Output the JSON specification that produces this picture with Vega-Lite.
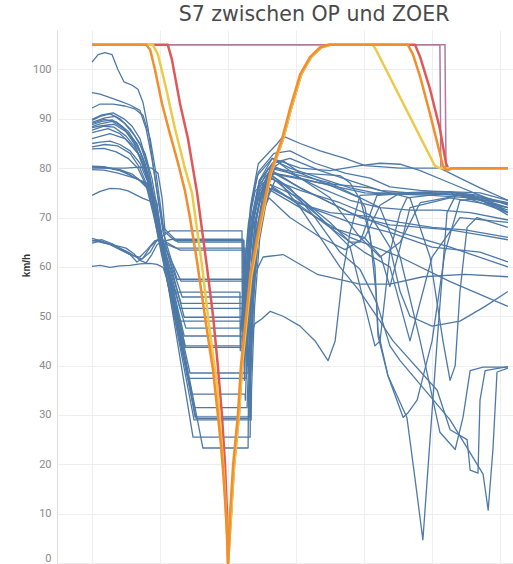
{
  "$schema": "https://vega.github.io/schema/vega-lite/v6.json",
  "width": 456,
  "height": 533,
  "autosize": {"type": "none"},
  "padding": {"left": 57, "top": 30, "right": 0, "bottom": 1},
  "background": "white",
  "title": {
    "text": "S7 zwischen OP und ZOER",
    "font": "DejaVu Sans",
    "fontSize": 20.5,
    "fontWeight": "normal",
    "color": "#4a4a4a",
    "anchor": "middle",
    "frame": "group",
    "dx": 29,
    "offset": 5
  },
  "config": {"view": {"stroke": null}},
  "datasets": {
    "fahrten": [
      {"fahrt":"01","m":0,"kmh":101.5},{"fahrt":"01","m":18,"kmh":103},{"fahrt":"01","m":38,"kmh":103.4},{"fahrt":"01","m":59,"kmh":103},{"fahrt":"01","m":76,"kmh":100},{"fahrt":"01","m":94,"kmh":97.5},{"fahrt":"01","m":118,"kmh":96.8},{"fahrt":"01","m":135,"kmh":96},{"fahrt":"01","m":150,"kmh":93.3},{"fahrt":"01","m":165,"kmh":88},{"fahrt":"01","m":179,"kmh":81},{"fahrt":"01","m":194,"kmh":74},{"fahrt":"01","m":209,"kmh":67},{"fahrt":"01","m":250,"kmh":57.5},{"fahrt":"01","m":444,"kmh":57.5},{"fahrt":"01","m":445,"kmh":44},{"fahrt":"01","m":454,"kmh":60.4},{"fahrt":"01","m":469,"kmh":73.5},{"fahrt":"01","m":489,"kmh":80.9},{"fahrt":"01","m":545,"kmh":85},{"fahrt":"01","m":562,"kmh":86.5},{"fahrt":"01","m":612,"kmh":85},{"fahrt":"01","m":671,"kmh":83.5},{"fahrt":"01","m":744,"kmh":82},{"fahrt":"01","m":803,"kmh":80.5},{"fahrt":"01","m":906,"kmh":80},{"fahrt":"01","m":1023,"kmh":80},{"fahrt":"01","m":1082,"kmh":78},{"fahrt":"01","m":1141,"kmh":76},{"fahrt":"01","m":1223,"kmh":73.5},
      {"fahrt":"02","m":0,"kmh":95.3},{"fahrt":"02","m":24,"kmh":95},{"fahrt":"02","m":53,"kmh":94.3},{"fahrt":"02","m":82,"kmh":93.6},{"fahrt":"02","m":112,"kmh":92.8},{"fahrt":"02","m":141,"kmh":91.7},{"fahrt":"02","m":159,"kmh":88},{"fahrt":"02","m":176,"kmh":82},{"fahrt":"02","m":194,"kmh":74},{"fahrt":"02","m":209,"kmh":68},{"fahrt":"02","m":253,"kmh":65},{"fahrt":"02","m":444,"kmh":65},{"fahrt":"02","m":445,"kmh":45},{"fahrt":"02","m":454,"kmh":60.2},{"fahrt":"02","m":469,"kmh":72.4},{"fahrt":"02","m":489,"kmh":79.2},{"fahrt":"02","m":535,"kmh":83},{"fahrt":"02","m":582,"kmh":83.5},{"fahrt":"02","m":656,"kmh":81},{"fahrt":"02","m":744,"kmh":79},{"fahrt":"02","m":818,"kmh":78},{"fahrt":"02","m":876,"kmh":76.2},{"fahrt":"02","m":965,"kmh":75.5},{"fahrt":"02","m":1082,"kmh":75},{"fahrt":"02","m":1223,"kmh":73},
      {"fahrt":"03","m":0,"kmh":92.2},{"fahrt":"03","m":24,"kmh":93},{"fahrt":"03","m":62,"kmh":93},{"fahrt":"03","m":97,"kmh":92.6},{"fahrt":"03","m":126,"kmh":92},{"fahrt":"03","m":150,"kmh":90.7},{"fahrt":"03","m":171,"kmh":86},{"fahrt":"03","m":188,"kmh":79},{"fahrt":"03","m":206,"kmh":70},{"fahrt":"03","m":218,"kmh":64},{"fahrt":"03","m":271,"kmh":49.8},{"fahrt":"03","m":447,"kmh":49.8},{"fahrt":"03","m":448,"kmh":41},{"fahrt":"03","m":457,"kmh":57.2},{"fahrt":"03","m":472,"kmh":70.2},{"fahrt":"03","m":492,"kmh":77.5},{"fahrt":"03","m":538,"kmh":81.5},{"fahrt":"03","m":582,"kmh":80},{"fahrt":"03","m":671,"kmh":78},{"fahrt":"03","m":759,"kmh":76},{"fahrt":"03","m":832,"kmh":75},{"fahrt":"03","m":965,"kmh":75},{"fahrt":"03","m":1082,"kmh":74.5},{"fahrt":"03","m":1156,"kmh":73.5},{"fahrt":"03","m":1223,"kmh":72},
      {"fahrt":"04","m":0,"kmh":89.7},{"fahrt":"04","m":24,"kmh":90.5},{"fahrt":"04","m":53,"kmh":91},{"fahrt":"04","m":82,"kmh":90},{"fahrt":"04","m":112,"kmh":88},{"fahrt":"04","m":141,"kmh":85},{"fahrt":"04","m":165,"kmh":80},{"fahrt":"04","m":185,"kmh":73},{"fahrt":"04","m":203,"kmh":66},{"fahrt":"04","m":229,"kmh":67.3},{"fahrt":"04","m":441,"kmh":67.3},{"fahrt":"04","m":442,"kmh":47},{"fahrt":"04","m":451,"kmh":61},{"fahrt":"04","m":466,"kmh":72.2},{"fahrt":"04","m":486,"kmh":78.5},{"fahrt":"04","m":530,"kmh":82},{"fahrt":"04","m":612,"kmh":80},{"fahrt":"04","m":700,"kmh":79.5},{"fahrt":"04","m":788,"kmh":80.5},{"fahrt":"04","m":847,"kmh":81},{"fahrt":"04","m":906,"kmh":80.8},{"fahrt":"04","m":965,"kmh":79.5},{"fahrt":"04","m":1053,"kmh":77},{"fahrt":"04","m":1141,"kmh":74.5},{"fahrt":"04","m":1223,"kmh":71},
      {"fahrt":"05","m":0,"kmh":89.3},{"fahrt":"05","m":38,"kmh":90.2},{"fahrt":"05","m":68,"kmh":90.5},{"fahrt":"05","m":97,"kmh":89},{"fahrt":"05","m":126,"kmh":86.5},{"fahrt":"05","m":156,"kmh":83},{"fahrt":"05","m":176,"kmh":78},{"fahrt":"05","m":194,"kmh":71},{"fahrt":"05","m":209,"kmh":65},{"fahrt":"05","m":303,"kmh":29.6},{"fahrt":"05","m":465,"kmh":29.6},{"fahrt":"05","m":466,"kmh":40},{"fahrt":"05","m":475,"kmh":56},{"fahrt":"05","m":490,"kmh":68.8},{"fahrt":"05","m":510,"kmh":76},{"fahrt":"05","m":538,"kmh":80},{"fahrt":"05","m":612,"kmh":79},{"fahrt":"05","m":729,"kmh":78.5},{"fahrt":"05","m":759,"kmh":77},{"fahrt":"05","m":803,"kmh":72},{"fahrt":"05","m":832,"kmh":60},{"fahrt":"05","m":841,"kmh":47},{"fahrt":"05","m":870,"kmh":38},{"fahrt":"05","m":926,"kmh":29.5},{"fahrt":"05","m":950,"kmh":17},{"fahrt":"05","m":973,"kmh":4.7},{"fahrt":"05","m":994,"kmh":25},{"fahrt":"05","m":1015,"kmh":45},{"fahrt":"05","m":1044,"kmh":71},{"fahrt":"05","m":1073,"kmh":75},{"fahrt":"05","m":1141,"kmh":74.5},{"fahrt":"05","m":1223,"kmh":72.5},
      {"fahrt":"06","m":0,"kmh":88.8},{"fahrt":"06","m":29,"kmh":89.5},{"fahrt":"06","m":59,"kmh":89.8},{"fahrt":"06","m":88,"kmh":88.5},{"fahrt":"06","m":118,"kmh":86},{"fahrt":"06","m":147,"kmh":82.5},{"fahrt":"06","m":171,"kmh":77},{"fahrt":"06","m":191,"kmh":70},{"fahrt":"06","m":206,"kmh":64},{"fahrt":"06","m":288,"kmh":38.5},{"fahrt":"06","m":459,"kmh":38.5},{"fahrt":"06","m":460,"kmh":42},{"fahrt":"06","m":469,"kmh":57.4},{"fahrt":"06","m":484,"kmh":69.7},{"fahrt":"06","m":504,"kmh":76.7},{"fahrt":"06","m":530,"kmh":80.5},{"fahrt":"06","m":582,"kmh":79},{"fahrt":"06","m":671,"kmh":76},{"fahrt":"06","m":759,"kmh":73.5},{"fahrt":"06","m":847,"kmh":72},{"fahrt":"06","m":935,"kmh":71.5},{"fahrt":"06","m":1023,"kmh":71.5},{"fahrt":"06","m":1112,"kmh":71},{"fahrt":"06","m":1223,"kmh":69.5},
      {"fahrt":"07","m":0,"kmh":88.4},{"fahrt":"07","m":24,"kmh":89},{"fahrt":"07","m":59,"kmh":89.5},{"fahrt":"07","m":94,"kmh":88},{"fahrt":"07","m":124,"kmh":85},{"fahrt":"07","m":147,"kmh":81},{"fahrt":"07","m":171,"kmh":76},{"fahrt":"07","m":188,"kmh":70},{"fahrt":"07","m":203,"kmh":65},{"fahrt":"07","m":247,"kmh":63.8},{"fahrt":"07","m":450,"kmh":63.8},{"fahrt":"07","m":451,"kmh":46},{"fahrt":"07","m":460,"kmh":60},{"fahrt":"07","m":475,"kmh":71.2},{"fahrt":"07","m":495,"kmh":77.5},{"fahrt":"07","m":530,"kmh":81},{"fahrt":"07","m":582,"kmh":82},{"fahrt":"07","m":671,"kmh":79.5},{"fahrt":"07","m":759,"kmh":77.5},{"fahrt":"07","m":847,"kmh":75.5},{"fahrt":"07","m":935,"kmh":75},{"fahrt":"07","m":1053,"kmh":75.2},{"fahrt":"07","m":1141,"kmh":74},{"fahrt":"07","m":1223,"kmh":72.8},
      {"fahrt":"08","m":0,"kmh":87.7},{"fahrt":"08","m":35,"kmh":88.5},{"fahrt":"08","m":65,"kmh":88.3},{"fahrt":"08","m":100,"kmh":86.5},{"fahrt":"08","m":129,"kmh":84},{"fahrt":"08","m":153,"kmh":80.5},{"fahrt":"08","m":174,"kmh":75},{"fahrt":"08","m":191,"kmh":69},{"fahrt":"08","m":206,"kmh":64},{"fahrt":"08","m":244,"kmh":54.9},{"fahrt":"08","m":435,"kmh":54.9},{"fahrt":"08","m":436,"kmh":43},{"fahrt":"08","m":445,"kmh":57.4},{"fahrt":"08","m":460,"kmh":68.9},{"fahrt":"08","m":480,"kmh":75.4},{"fahrt":"08","m":535,"kmh":79},{"fahrt":"08","m":612,"kmh":78},{"fahrt":"08","m":700,"kmh":76.5},{"fahrt":"08","m":788,"kmh":74},{"fahrt":"08","m":818,"kmh":66},{"fahrt":"08","m":835,"kmh":55},{"fahrt":"08","m":841,"kmh":46},{"fahrt":"08","m":870,"kmh":38},{"fahrt":"08","m":915,"kmh":29.5},{"fahrt":"08","m":930,"kmh":30.5},{"fahrt":"08","m":956,"kmh":33},{"fahrt":"08","m":1000,"kmh":45},{"fahrt":"08","m":1038,"kmh":63},{"fahrt":"08","m":1082,"kmh":73.5},{"fahrt":"08","m":1141,"kmh":73.8},{"fahrt":"08","m":1223,"kmh":70.5},
      {"fahrt":"09","m":0,"kmh":87.2},{"fahrt":"09","m":47,"kmh":88},{"fahrt":"09","m":82,"kmh":87},{"fahrt":"09","m":112,"kmh":85},{"fahrt":"09","m":141,"kmh":82.5},{"fahrt":"09","m":165,"kmh":78},{"fahrt":"09","m":185,"kmh":72},{"fahrt":"09","m":203,"kmh":66},{"fahrt":"09","m":274,"kmh":43.7},{"fahrt":"09","m":465,"kmh":43.7},{"fahrt":"09","m":466,"kmh":38},{"fahrt":"09","m":475,"kmh":54},{"fahrt":"09","m":490,"kmh":66.8},{"fahrt":"09","m":510,"kmh":74},{"fahrt":"09","m":524,"kmh":78},{"fahrt":"09","m":553,"kmh":77},{"fahrt":"09","m":612,"kmh":72},{"fahrt":"09","m":671,"kmh":66},{"fahrt":"09","m":729,"kmh":60},{"fahrt":"09","m":788,"kmh":55},{"fahrt":"09","m":847,"kmh":49},{"fahrt":"09","m":885,"kmh":45},{"fahrt":"09","m":1015,"kmh":35},{"fahrt":"09","m":1053,"kmh":27},{"fahrt":"09","m":1103,"kmh":25},{"fahrt":"09","m":1112,"kmh":18.8},{"fahrt":"09","m":1135,"kmh":18.2},{"fahrt":"09","m":1141,"kmh":33},{"fahrt":"09","m":1156,"kmh":39},{"fahrt":"09","m":1223,"kmh":39.8},
      {"fahrt":"10","m":0,"kmh":85},{"fahrt":"10","m":24,"kmh":85.3},{"fahrt":"10","m":53,"kmh":85.5},{"fahrt":"10","m":82,"kmh":84.8},{"fahrt":"10","m":112,"kmh":83.5},{"fahrt":"10","m":141,"kmh":81},{"fahrt":"10","m":165,"kmh":77},{"fahrt":"10","m":185,"kmh":71},{"fahrt":"10","m":203,"kmh":65},{"fahrt":"10","m":297,"kmh":25.5},{"fahrt":"10","m":465,"kmh":25.5},{"fahrt":"10","m":466,"kmh":36},{"fahrt":"10","m":474,"kmh":52},{"fahrt":"10","m":488,"kmh":66},{"fahrt":"10","m":505,"kmh":74},{"fahrt":"10","m":518,"kmh":79},{"fahrt":"10","m":582,"kmh":76},{"fahrt":"10","m":656,"kmh":70},{"fahrt":"10","m":729,"kmh":63},{"fahrt":"10","m":788,"kmh":59.5},{"fahrt":"10","m":838,"kmh":52.6},{"fahrt":"10","m":876,"kmh":44},{"fahrt":"10","m":906,"kmh":41},{"fahrt":"10","m":1053,"kmh":29},{"fahrt":"10","m":1150,"kmh":18},{"fahrt":"10","m":1165,"kmh":10.7},{"fahrt":"10","m":1179,"kmh":23},{"fahrt":"10","m":1191,"kmh":38.7},{"fahrt":"10","m":1223,"kmh":39.5},
      {"fahrt":"11","m":0,"kmh":84.3},{"fahrt":"11","m":38,"kmh":84.8},{"fahrt":"11","m":76,"kmh":84.5},{"fahrt":"11","m":112,"kmh":83},{"fahrt":"11","m":141,"kmh":80},{"fahrt":"11","m":165,"kmh":76},{"fahrt":"11","m":185,"kmh":70},{"fahrt":"11","m":200,"kmh":65},{"fahrt":"11","m":235,"kmh":65.6},{"fahrt":"11","m":444,"kmh":65.6},{"fahrt":"11","m":445,"kmh":44},{"fahrt":"11","m":454,"kmh":58.4},{"fahrt":"11","m":469,"kmh":70},{"fahrt":"11","m":489,"kmh":76.4},{"fahrt":"11","m":530,"kmh":80},{"fahrt":"11","m":562,"kmh":81.5},{"fahrt":"11","m":612,"kmh":79},{"fahrt":"11","m":700,"kmh":76.5},{"fahrt":"11","m":803,"kmh":75},{"fahrt":"11","m":906,"kmh":74.7},{"fahrt":"11","m":1023,"kmh":74.8},{"fahrt":"11","m":1112,"kmh":74.3},{"fahrt":"11","m":1223,"kmh":71.5},
      {"fahrt":"12","m":0,"kmh":83.9},{"fahrt":"12","m":35,"kmh":84},{"fahrt":"12","m":71,"kmh":83.3},{"fahrt":"12","m":106,"kmh":82},{"fahrt":"12","m":135,"kmh":80},{"fahrt":"12","m":159,"kmh":76.5},{"fahrt":"12","m":179,"kmh":71},{"fahrt":"12","m":197,"kmh":65.5},{"fahrt":"12","m":294,"kmh":34.2},{"fahrt":"12","m":450,"kmh":34.2},{"fahrt":"12","m":451,"kmh":33},{"fahrt":"12","m":460,"kmh":51.4},{"fahrt":"12","m":475,"kmh":66},{"fahrt":"12","m":495,"kmh":74.4},{"fahrt":"12","m":535,"kmh":79},{"fahrt":"12","m":612,"kmh":76},{"fahrt":"12","m":700,"kmh":73},{"fahrt":"12","m":788,"kmh":70},{"fahrt":"12","m":876,"kmh":68.5},{"fahrt":"12","m":965,"kmh":68},{"fahrt":"12","m":1053,"kmh":67.5},{"fahrt":"12","m":1141,"kmh":66.5},{"fahrt":"12","m":1223,"kmh":65.5},
      {"fahrt":"13","m":0,"kmh":80.4},{"fahrt":"13","m":35,"kmh":80.3},{"fahrt":"13","m":68,"kmh":79.8},{"fahrt":"13","m":97,"kmh":79.2},{"fahrt":"13","m":126,"kmh":78},{"fahrt":"13","m":162,"kmh":77},{"fahrt":"13","m":176,"kmh":75},{"fahrt":"13","m":191,"kmh":73},{"fahrt":"13","m":200,"kmh":68},{"fahrt":"13","m":212,"kmh":64},{"fahrt":"13","m":259,"kmh":51.6},{"fahrt":"13","m":456,"kmh":51.6},{"fahrt":"13","m":457,"kmh":40},{"fahrt":"13","m":466,"kmh":46},{"fahrt":"13","m":479,"kmh":48.5},{"fahrt":"13","m":500,"kmh":49.5},{"fahrt":"13","m":524,"kmh":51},{"fahrt":"13","m":562,"kmh":50},{"fahrt":"13","m":612,"kmh":48},{"fahrt":"13","m":656,"kmh":45},{"fahrt":"13","m":694,"kmh":41},{"fahrt":"13","m":715,"kmh":45},{"fahrt":"13","m":738,"kmh":59},{"fahrt":"13","m":759,"kmh":67},{"fahrt":"13","m":788,"kmh":74.5},{"fahrt":"13","m":876,"kmh":74.8},{"fahrt":"13","m":1000,"kmh":74.5},{"fahrt":"13","m":1112,"kmh":74},{"fahrt":"13","m":1223,"kmh":72.8},
      {"fahrt":"14","m":0,"kmh":80.2},{"fahrt":"14","m":47,"kmh":80},{"fahrt":"14","m":82,"kmh":79.5},{"fahrt":"14","m":112,"kmh":78.6},{"fahrt":"14","m":141,"kmh":77.5},{"fahrt":"14","m":165,"kmh":76.5},{"fahrt":"14","m":182,"kmh":73.5},{"fahrt":"14","m":197,"kmh":68},{"fahrt":"14","m":209,"kmh":63},{"fahrt":"14","m":276,"kmh":47.6},{"fahrt":"14","m":444,"kmh":47.6},{"fahrt":"14","m":445,"kmh":42},{"fahrt":"14","m":454,"kmh":50},{"fahrt":"14","m":469,"kmh":56.4},{"fahrt":"14","m":489,"kmh":60},{"fahrt":"14","m":503,"kmh":62},{"fahrt":"14","m":562,"kmh":62.5},{"fahrt":"14","m":662,"kmh":58.5},{"fahrt":"14","m":788,"kmh":56.5},{"fahrt":"14","m":876,"kmh":56.5},{"fahrt":"14","m":973,"kmh":58},{"fahrt":"14","m":1097,"kmh":58.5},{"fahrt":"14","m":1223,"kmh":58},
      {"fahrt":"15","m":0,"kmh":80},{"fahrt":"15","m":53,"kmh":80},{"fahrt":"15","m":97,"kmh":80},{"fahrt":"15","m":141,"kmh":80.2},{"fahrt":"15","m":176,"kmh":80},{"fahrt":"15","m":194,"kmh":79},{"fahrt":"15","m":206,"kmh":74},{"fahrt":"15","m":215,"kmh":67},{"fahrt":"15","m":244,"kmh":65.3},{"fahrt":"15","m":447,"kmh":65.3},{"fahrt":"15","m":448,"kmh":45},{"fahrt":"15","m":457,"kmh":58.2},{"fahrt":"15","m":472,"kmh":68.8},{"fahrt":"15","m":492,"kmh":74.7},{"fahrt":"15","m":530,"kmh":78},{"fahrt":"15","m":671,"kmh":70},{"fahrt":"15","m":759,"kmh":64},{"fahrt":"15","m":803,"kmh":52},{"fahrt":"15","m":832,"kmh":44},{"fahrt":"15","m":847,"kmh":45},{"fahrt":"15","m":876,"kmh":63},{"fahrt":"15","m":906,"kmh":71},{"fahrt":"15","m":926,"kmh":74},{"fahrt":"15","m":1053,"kmh":75},{"fahrt":"15","m":1223,"kmh":72},
      {"fahrt":"16","m":0,"kmh":79.7},{"fahrt":"16","m":35,"kmh":79.6},{"fahrt":"16","m":76,"kmh":79},{"fahrt":"16","m":106,"kmh":78.4},{"fahrt":"16","m":135,"kmh":77.8},{"fahrt":"16","m":162,"kmh":76},{"fahrt":"16","m":179,"kmh":72},{"fahrt":"16","m":194,"kmh":66},{"fahrt":"16","m":306,"kmh":29.3},{"fahrt":"16","m":462,"kmh":29.3},{"fahrt":"16","m":463,"kmh":37},{"fahrt":"16","m":472,"kmh":53},{"fahrt":"16","m":487,"kmh":65.8},{"fahrt":"16","m":505,"kmh":73},{"fahrt":"16","m":515,"kmh":77},{"fahrt":"16","m":612,"kmh":74},{"fahrt":"16","m":700,"kmh":69},{"fahrt":"16","m":759,"kmh":65},{"fahrt":"16","m":788,"kmh":65},{"fahrt":"16","m":838,"kmh":74.5},{"fahrt":"16","m":965,"kmh":75},{"fahrt":"16","m":1112,"kmh":74.5},{"fahrt":"16","m":1223,"kmh":71},
      {"fahrt":"17","m":0,"kmh":74.5},{"fahrt":"17","m":24,"kmh":75.3},{"fahrt":"17","m":53,"kmh":75.9},{"fahrt":"17","m":82,"kmh":75.8},{"fahrt":"17","m":106,"kmh":75.4},{"fahrt":"17","m":129,"kmh":74.6},{"fahrt":"17","m":150,"kmh":73.9},{"fahrt":"17","m":179,"kmh":73.1},{"fahrt":"17","m":194,"kmh":70},{"fahrt":"17","m":206,"kmh":66},{"fahrt":"17","m":265,"kmh":53.9},{"fahrt":"17","m":450,"kmh":53.9},{"fahrt":"17","m":451,"kmh":43},{"fahrt":"17","m":460,"kmh":57.8},{"fahrt":"17","m":475,"kmh":69.6},{"fahrt":"17","m":495,"kmh":76.3},{"fahrt":"17","m":518,"kmh":80},{"fahrt":"17","m":612,"kmh":76},{"fahrt":"17","m":759,"kmh":71},{"fahrt":"17","m":906,"kmh":67},{"fahrt":"17","m":1053,"kmh":64},{"fahrt":"17","m":1223,"kmh":60},
      {"fahrt":"18","m":0,"kmh":65.8},{"fahrt":"18","m":38,"kmh":65},{"fahrt":"18","m":76,"kmh":64},{"fahrt":"18","m":106,"kmh":63},{"fahrt":"18","m":129,"kmh":62},{"fahrt":"18","m":147,"kmh":61.6},{"fahrt":"18","m":171,"kmh":63},{"fahrt":"18","m":191,"kmh":65.4},{"fahrt":"18","m":206,"kmh":65.5},{"fahrt":"18","m":259,"kmh":63.4},{"fahrt":"18","m":447,"kmh":63.4},{"fahrt":"18","m":448,"kmh":45},{"fahrt":"18","m":457,"kmh":57.4},{"fahrt":"18","m":472,"kmh":67.3},{"fahrt":"18","m":492,"kmh":72.9},{"fahrt":"18","m":512,"kmh":76},{"fahrt":"18","m":612,"kmh":72},{"fahrt":"18","m":759,"kmh":66},{"fahrt":"18","m":906,"kmh":62},{"fahrt":"18","m":1053,"kmh":57},{"fahrt":"18","m":1223,"kmh":52},
      {"fahrt":"19","m":0,"kmh":65.4},{"fahrt":"19","m":35,"kmh":64.8},{"fahrt":"19","m":71,"kmh":64.3},{"fahrt":"19","m":100,"kmh":63.8},{"fahrt":"19","m":124,"kmh":62.6},{"fahrt":"19","m":141,"kmh":61.3},{"fahrt":"19","m":159,"kmh":60.8},{"fahrt":"19","m":176,"kmh":62.5},{"fahrt":"19","m":191,"kmh":64.5},{"fahrt":"19","m":206,"kmh":65.2},{"fahrt":"19","m":262,"kmh":57.1},{"fahrt":"19","m":453,"kmh":57.1},{"fahrt":"19","m":454,"kmh":41},{"fahrt":"19","m":463,"kmh":56.2},{"fahrt":"19","m":478,"kmh":68.4},{"fahrt":"19","m":498,"kmh":75.2},{"fahrt":"19","m":524,"kmh":79},{"fahrt":"19","m":671,"kmh":77},{"fahrt":"19","m":818,"kmh":76},{"fahrt":"19","m":935,"kmh":74},{"fahrt":"19","m":994,"kmh":62},{"fahrt":"19","m":1032,"kmh":45},{"fahrt":"19","m":1053,"kmh":37},{"fahrt":"19","m":1068,"kmh":40},{"fahrt":"19","m":1082,"kmh":55},{"fahrt":"19","m":1103,"kmh":68},{"fahrt":"19","m":1132,"kmh":70},{"fahrt":"19","m":1223,"kmh":68},
      {"fahrt":"20","m":0,"kmh":64.8},{"fahrt":"20","m":24,"kmh":65.2},{"fahrt":"20","m":53,"kmh":64.5},{"fahrt":"20","m":82,"kmh":63.5},{"fahrt":"20","m":112,"kmh":62.5},{"fahrt":"20","m":132,"kmh":61},{"fahrt":"20","m":150,"kmh":61.8},{"fahrt":"20","m":171,"kmh":64},{"fahrt":"20","m":194,"kmh":65.6},{"fahrt":"20","m":209,"kmh":65},{"fahrt":"20","m":326,"kmh":23.3},{"fahrt":"20","m":459,"kmh":23.3},{"fahrt":"20","m":460,"kmh":34},{"fahrt":"20","m":469,"kmh":52.4},{"fahrt":"20","m":484,"kmh":67.1},{"fahrt":"20","m":504,"kmh":75.4},{"fahrt":"20","m":524,"kmh":80},{"fahrt":"20","m":700,"kmh":77},{"fahrt":"20","m":847,"kmh":72},{"fahrt":"20","m":906,"kmh":62},{"fahrt":"20","m":965,"kmh":45},{"fahrt":"20","m":1023,"kmh":26.5},{"fahrt":"20","m":1068,"kmh":23},{"fahrt":"20","m":1091,"kmh":29.5},{"fahrt":"20","m":1112,"kmh":39},{"fahrt":"20","m":1150,"kmh":39.7},{"fahrt":"20","m":1223,"kmh":39.7},
      {"fahrt":"21","m":0,"kmh":60.1},{"fahrt":"21","m":24,"kmh":60.3},{"fahrt":"21","m":53,"kmh":59.9},{"fahrt":"21","m":82,"kmh":60.2},{"fahrt":"21","m":112,"kmh":60.3},{"fahrt":"21","m":141,"kmh":60.6},{"fahrt":"21","m":171,"kmh":60.7},{"fahrt":"21","m":191,"kmh":60.5},{"fahrt":"21","m":209,"kmh":59.9},{"fahrt":"21","m":218,"kmh":58},{"fahrt":"21","m":253,"kmh":49},{"fahrt":"21","m":453,"kmh":49},{"fahrt":"21","m":454,"kmh":39},{"fahrt":"21","m":463,"kmh":53.8},{"fahrt":"21","m":478,"kmh":65.6},{"fahrt":"21","m":498,"kmh":72.3},{"fahrt":"21","m":529,"kmh":76},{"fahrt":"21","m":600,"kmh":73},{"fahrt":"21","m":700,"kmh":71},{"fahrt":"21","m":818,"kmh":70.2},{"fahrt":"21","m":906,"kmh":69},{"fahrt":"21","m":1000,"kmh":68},{"fahrt":"21","m":1097,"kmh":67.5},{"fahrt":"21","m":1223,"kmh":66},
      {"fahrt":"22","m":0,"kmh":89.9},{"fahrt":"22","m":29,"kmh":90.8},{"fahrt":"22","m":62,"kmh":91.2},{"fahrt":"22","m":94,"kmh":90},{"fahrt":"22","m":118,"kmh":88.5},{"fahrt":"22","m":141,"kmh":86},{"fahrt":"22","m":162,"kmh":81},{"fahrt":"22","m":182,"kmh":74},{"fahrt":"22","m":200,"kmh":67},{"fahrt":"22","m":282,"kmh":37.4},{"fahrt":"22","m":453,"kmh":37.4},{"fahrt":"22","m":454,"kmh":38},{"fahrt":"22","m":463,"kmh":52.4},{"fahrt":"22","m":478,"kmh":64},{"fahrt":"22","m":498,"kmh":70.4},{"fahrt":"22","m":520,"kmh":74},{"fahrt":"22","m":582,"kmh":70},{"fahrt":"22","m":671,"kmh":66},{"fahrt":"22","m":744,"kmh":63.5},{"fahrt":"22","m":803,"kmh":66},{"fahrt":"22","m":847,"kmh":72.5},{"fahrt":"22","m":906,"kmh":75},{"fahrt":"22","m":1023,"kmh":75.3},{"fahrt":"22","m":1141,"kmh":75},{"fahrt":"22","m":1223,"kmh":73.5},
      {"fahrt":"23","m":0,"kmh":86},{"fahrt":"23","m":53,"kmh":87},{"fahrt":"23","m":97,"kmh":86},{"fahrt":"23","m":135,"kmh":83},{"fahrt":"23","m":159,"kmh":79},{"fahrt":"23","m":179,"kmh":73},{"fahrt":"23","m":197,"kmh":66},{"fahrt":"23","m":300,"kmh":29},{"fahrt":"23","m":468,"kmh":29},{"fahrt":"23","m":469,"kmh":35},{"fahrt":"23","m":478,"kmh":52},{"fahrt":"23","m":493,"kmh":65.6},{"fahrt":"23","m":513,"kmh":73.3},{"fahrt":"23","m":538,"kmh":77.5},{"fahrt":"23","m":612,"kmh":75.5},{"fahrt":"23","m":729,"kmh":73},{"fahrt":"23","m":818,"kmh":70.5},{"fahrt":"23","m":876,"kmh":64},{"fahrt":"23","m":906,"kmh":55},{"fahrt":"23","m":935,"kmh":50},{"fahrt":"23","m":1000,"kmh":48},{"fahrt":"23","m":1082,"kmh":49},{"fahrt":"23","m":1156,"kmh":52},{"fahrt":"23","m":1223,"kmh":55},
      {"fahrt":"24","m":0,"kmh":89.1},{"fahrt":"24","m":35,"kmh":89.9},{"fahrt":"24","m":71,"kmh":89.4},{"fahrt":"24","m":106,"kmh":87.5},{"fahrt":"24","m":135,"kmh":84.5},{"fahrt":"24","m":159,"kmh":80},{"fahrt":"24","m":179,"kmh":74},{"fahrt":"24","m":200,"kmh":66.5},{"fahrt":"24","m":262,"kmh":52.6},{"fahrt":"24","m":446,"kmh":52.6},{"fahrt":"24","m":447,"kmh":42},{"fahrt":"24","m":456,"kmh":56.8},{"fahrt":"24","m":471,"kmh":68.3},{"fahrt":"24","m":491,"kmh":75},{"fahrt":"24","m":520,"kmh":79},{"fahrt":"24","m":612,"kmh":74},{"fahrt":"24","m":700,"kmh":68},{"fahrt":"24","m":800,"kmh":66},{"fahrt":"24","m":850,"kmh":62},{"fahrt":"24","m":876,"kmh":56},{"fahrt":"24","m":906,"kmh":64},{"fahrt":"24","m":935,"kmh":72},{"fahrt":"24","m":1053,"kmh":74},{"fahrt":"24","m":1223,"kmh":72},
      {"fahrt":"25","m":0,"kmh":80.3},{"fahrt":"25","m":41,"kmh":80.1},{"fahrt":"25","m":82,"kmh":79.7},{"fahrt":"25","m":118,"kmh":78.8},{"fahrt":"25","m":147,"kmh":77.2},{"fahrt":"25","m":171,"kmh":75.5},{"fahrt":"25","m":188,"kmh":72},{"fahrt":"25","m":203,"kmh":66},{"fahrt":"25","m":271,"kmh":46},{"fahrt":"25","m":441,"kmh":46},{"fahrt":"25","m":442,"kmh":40},{"fahrt":"25","m":451,"kmh":54.8},{"fahrt":"25","m":466,"kmh":66.2},{"fahrt":"25","m":486,"kmh":73.1},{"fahrt":"25","m":515,"kmh":77},{"fahrt":"25","m":600,"kmh":73},{"fahrt":"25","m":700,"kmh":68},{"fahrt":"25","m":800,"kmh":63},{"fahrt":"25","m":876,"kmh":60},{"fahrt":"25","m":935,"kmh":45},{"fahrt":"25","m":1000,"kmh":62},{"fahrt":"25","m":1082,"kmh":70},{"fahrt":"25","m":1223,"kmh":69},
      {"fahrt":"26","m":0,"kmh":88.2},{"fahrt":"26","m":29,"kmh":88.6},{"fahrt":"26","m":65,"kmh":88.9},{"fahrt":"26","m":100,"kmh":87.4},{"fahrt":"26","m":132,"kmh":85},{"fahrt":"26","m":156,"kmh":81},{"fahrt":"26","m":176,"kmh":75.5},{"fahrt":"26","m":194,"kmh":69},{"fahrt":"26","m":206,"kmh":65},{"fahrt":"26","m":274,"kmh":44},{"fahrt":"26","m":447,"kmh":44},{"fahrt":"26","m":448,"kmh":37},{"fahrt":"26","m":457,"kmh":55},{"fahrt":"26","m":472,"kmh":69.2},{"fahrt":"26","m":492,"kmh":77.5},{"fahrt":"26","m":530,"kmh":82},{"fahrt":"26","m":612,"kmh":78},{"fahrt":"26","m":700,"kmh":74},{"fahrt":"26","m":788,"kmh":66},{"fahrt":"26","m":847,"kmh":62},{"fahrt":"26","m":906,"kmh":65},{"fahrt":"26","m":965,"kmh":73},{"fahrt":"26","m":1082,"kmh":74.5},{"fahrt":"26","m":1223,"kmh":71},
      {"fahrt":"27","m":0,"kmh":65.2},{"fahrt":"27","m":29,"kmh":65.5},{"fahrt":"27","m":62,"kmh":64.6},{"fahrt":"27","m":94,"kmh":63.2},{"fahrt":"27","m":118,"kmh":62.3},{"fahrt":"27","m":141,"kmh":62},{"fahrt":"27","m":162,"kmh":63.5},{"fahrt":"27","m":185,"kmh":65.3},{"fahrt":"27","m":203,"kmh":65.4},{"fahrt":"27","m":300,"kmh":31.5},{"fahrt":"27","m":456,"kmh":31.5},{"fahrt":"27","m":457,"kmh":34},{"fahrt":"27","m":466,"kmh":50.8},{"fahrt":"27","m":481,"kmh":64.2},{"fahrt":"27","m":501,"kmh":72},{"fahrt":"27","m":520,"kmh":76},{"fahrt":"27","m":641,"kmh":72},{"fahrt":"27","m":759,"kmh":69},{"fahrt":"27","m":876,"kmh":67},{"fahrt":"27","m":1000,"kmh":64},{"fahrt":"27","m":1141,"kmh":63},{"fahrt":"27","m":1223,"kmh":61}
    ],
    "profile": [
      {"profil":"D1","m":0,"kmh":105},{"profil":"D1","m":1023,"kmh":105},{"profil":"D1","m":1026,"kmh":80},{"profil":"D1","m":1223,"kmh":80},
      {"profil":"D2","m":0,"kmh":105},{"profil":"D2","m":1038,"kmh":105},{"profil":"D2","m":1041,"kmh":80},{"profil":"D2","m":1223,"kmh":80},
      {"profil":"C","m":0,"kmh":105},{"profil":"C","m":223,"kmh":105},{"profil":"C","m":235,"kmh":102},{"profil":"C","m":259,"kmh":93},{"profil":"C","m":282,"kmh":86},{"profil":"C","m":309,"kmh":75},{"profil":"C","m":338,"kmh":60},{"profil":"C","m":356,"kmh":50},{"profil":"C","m":370,"kmh":40},{"profil":"C","m":382,"kmh":30},{"profil":"C","m":391,"kmh":20},{"profil":"C","m":397,"kmh":10},{"profil":"C","m":400,"kmh":0},{"profil":"C","m":409,"kmh":10},{"profil":"C","m":418,"kmh":20},{"profil":"C","m":432,"kmh":30},{"profil":"C","m":441,"kmh":40},{"profil":"C","m":453,"kmh":48},{"profil":"C","m":468,"kmh":58},{"profil":"C","m":497,"kmh":69},{"profil":"C","m":526,"kmh":79},{"profil":"C","m":562,"kmh":86},{"profil":"C","m":585,"kmh":92},{"profil":"C","m":615,"kmh":99},{"profil":"C","m":644,"kmh":102.5},{"profil":"C","m":674,"kmh":104.5},{"profil":"C","m":700,"kmh":105},{"profil":"C","m":950,"kmh":105},{"profil":"C","m":965,"kmh":102.5},{"profil":"C","m":994,"kmh":96},{"profil":"C","m":1023,"kmh":88},{"profil":"C","m":1041,"kmh":81},{"profil":"C","m":1047,"kmh":80},{"profil":"C","m":1223,"kmh":80},
      {"profil":"B","m":0,"kmh":105},{"profil":"B","m":179,"kmh":105},{"profil":"B","m":194,"kmh":103},{"profil":"B","m":215,"kmh":97},{"profil":"B","m":244,"kmh":88},{"profil":"B","m":273,"kmh":80},{"profil":"B","m":294,"kmh":75},{"profil":"B","m":324,"kmh":60},{"profil":"B","m":341,"kmh":50},{"profil":"B","m":356,"kmh":42},{"profil":"B","m":368,"kmh":36},{"profil":"B","m":376,"kmh":29},{"profil":"B","m":388,"kmh":18},{"profil":"B","m":394,"kmh":10},{"profil":"B","m":400,"kmh":0},{"profil":"B","m":409,"kmh":10},{"profil":"B","m":418,"kmh":20},{"profil":"B","m":432,"kmh":30},{"profil":"B","m":441,"kmh":40},{"profil":"B","m":453,"kmh":48},{"profil":"B","m":468,"kmh":58},{"profil":"B","m":497,"kmh":69},{"profil":"B","m":526,"kmh":79},{"profil":"B","m":562,"kmh":86},{"profil":"B","m":585,"kmh":92},{"profil":"B","m":615,"kmh":99},{"profil":"B","m":644,"kmh":102.5},{"profil":"B","m":674,"kmh":104.5},{"profil":"B","m":700,"kmh":105},{"profil":"B","m":826,"kmh":105},{"profil":"B","m":835,"kmh":104},{"profil":"B","m":1008,"kmh":80.5},{"profil":"B","m":1023,"kmh":80},{"profil":"B","m":1223,"kmh":80},
      {"profil":"A","m":0,"kmh":105},{"profil":"A","m":159,"kmh":105},{"profil":"A","m":171,"kmh":104},{"profil":"A","m":185,"kmh":100},{"profil":"A","m":206,"kmh":93},{"profil":"A","m":229,"kmh":87},{"profil":"A","m":253,"kmh":81},{"profil":"A","m":273,"kmh":75.5},{"profil":"A","m":288,"kmh":70},{"profil":"A","m":309,"kmh":61},{"profil":"A","m":332,"kmh":50},{"profil":"A","m":347,"kmh":43},{"profil":"A","m":356,"kmh":39},{"profil":"A","m":370,"kmh":30},{"profil":"A","m":379,"kmh":24},{"profil":"A","m":385,"kmh":19},{"profil":"A","m":391,"kmh":13},{"profil":"A","m":397,"kmh":6},{"profil":"A","m":400,"kmh":0},{"profil":"A","m":406,"kmh":10},{"profil":"A","m":415,"kmh":20},{"profil":"A","m":429,"kmh":30},{"profil":"A","m":438,"kmh":40},{"profil":"A","m":450,"kmh":48},{"profil":"A","m":465,"kmh":58},{"profil":"A","m":494,"kmh":69},{"profil":"A","m":524,"kmh":79},{"profil":"A","m":559,"kmh":86},{"profil":"A","m":582,"kmh":92},{"profil":"A","m":612,"kmh":99},{"profil":"A","m":641,"kmh":102.5},{"profil":"A","m":671,"kmh":104.5},{"profil":"A","m":694,"kmh":105},{"profil":"A","m":929,"kmh":105},{"profil":"A","m":944,"kmh":103},{"profil":"A","m":965,"kmh":98.5},{"profil":"A","m":994,"kmh":91},{"profil":"A","m":1023,"kmh":83},{"profil":"A","m":1032,"kmh":80.5},{"profil":"A","m":1044,"kmh":79.5},{"profil":"A","m":1059,"kmh":80},{"profil":"A","m":1223,"kmh":80}
    ]
  },
  "encoding": {
    "x": {
      "field": "m",
      "type": "quantitative",
      "scale": {"domain": [-103, 1238], "nice": false, "zero": false},
      "axis": {
        "values": [0, 200, 400, 600, 800, 1000, 1200],
        "labels": false,
        "ticks": false,
        "domain": false,
        "title": null,
        "grid": true,
        "gridColor": "#eeeeee"
      }
    },
    "y": {
      "field": "kmh",
      "type": "quantitative",
      "scale": {"domain": [0, 108], "nice": false},
      "axis": {
        "values": [0, 10, 20, 30, 40, 50, 60, 70, 80, 90, 100],
        "title": "km/h",
        "titleFont": "Liberation Sans",
        "titleFontSize": 10,
        "titleFontWeight": "bold",
        "titleColor": "#333333",
        "titleAngle": 270,
        "titleX": -31,
        "titleY": 235,
        "titleAlign": "center",
        "titleBaseline": "middle",
        "labelFont": "Roboto",
        "labelFontSize": 11,
        "labelColor": "#8a8a8a",
        "labelPadding": 6,
        "labelFlush": true,
        "ticks": false,
        "domainColor": "#dddddd",
        "gridColor": "#eeeeee"
      }
    }
  },
  "layer": [
    {
      "data": {"name": "fahrten"},
      "mark": {"type": "line", "color": "#4e79a7", "strokeWidth": 1.3, "strokeJoin": "round"},
      "encoding": {"detail": {"field": "fahrt", "type": "nominal"}}
    },
    {
      "data": {"name": "profile"},
      "transform": [{"filter": "datum.profil === 'D1' || datum.profil === 'D2'"}],
      "mark": {"type": "line", "color": "#b07aa1", "strokeWidth": 1.5},
      "encoding": {"detail": {"field": "profil", "type": "nominal"}}
    },
    {
      "data": {"name": "profile"},
      "transform": [{"filter": "datum.profil === 'C'"}],
      "mark": {"type": "line", "color": "#e15759", "strokeWidth": 2.5, "strokeJoin": "round"},
      "encoding": {}
    },
    {
      "data": {"name": "profile"},
      "transform": [{"filter": "datum.profil === 'B'"}],
      "mark": {"type": "line", "color": "#edc948", "strokeWidth": 2.5, "strokeJoin": "round"},
      "encoding": {}
    },
    {
      "data": {"name": "profile"},
      "transform": [{"filter": "datum.profil === 'A'"}],
      "mark": {"type": "line", "color": "#f28e2b", "strokeWidth": 2.5, "strokeJoin": "round"},
      "encoding": {}
    }
  ]
}
